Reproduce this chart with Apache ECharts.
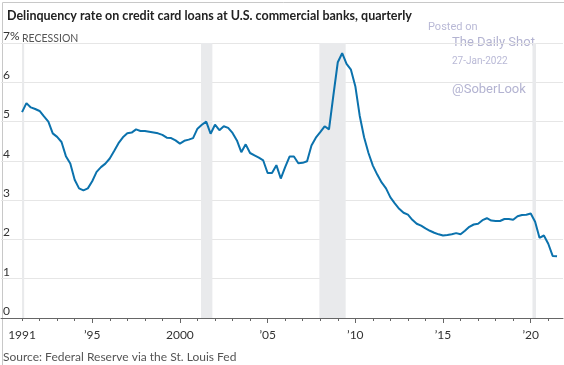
<!DOCTYPE html>
<html><head><meta charset="utf-8">
<script src="https://cdn.jsdelivr.net/npm/echarts@6/dist/echarts.min.js"></script>
<style>html,body{margin:0;padding:0;background:#fff}#c{width:564px;height:365px}</style>
</head><body><div id="c"></div>
<script>
const startYear = 1991;
// quarterly delinquency rate (%) from 1991 Q1 to 2021 Q3
const rates = [
  5.24, 5.47, 5.36, 5.32,
  5.27, 5.13, 5.00, 4.70,
  4.61, 4.48, 4.12, 3.93,
  3.52, 3.30, 3.25, 3.30,
  3.48, 3.72, 3.84, 3.93,
  4.06, 4.25, 4.45, 4.60,
  4.70, 4.72, 4.80, 4.76,
  4.76, 4.74, 4.72, 4.70,
  4.66, 4.59, 4.58, 4.52,
  4.44, 4.51, 4.54, 4.58,
  4.82, 4.92, 5.00, 4.69,
  4.92, 4.78, 4.88, 4.84,
  4.71, 4.52, 4.22, 4.42,
  4.20, 4.14, 4.08, 4.01,
  3.69, 3.69, 3.89, 3.55,
  3.84, 4.11, 4.11, 3.94,
  3.95, 3.99, 4.39, 4.59,
  4.73, 4.88, 4.80, 5.67,
  6.51, 6.74, 6.47, 6.32,
  5.90, 5.15, 4.60, 4.20,
  3.88, 3.65, 3.45, 3.30,
  3.07, 2.92, 2.78, 2.68,
  2.63, 2.50, 2.40, 2.35,
  2.28, 2.22, 2.17, 2.13,
  2.10, 2.11, 2.13, 2.16,
  2.13, 2.22, 2.32, 2.38,
  2.40, 2.49, 2.54, 2.48,
  2.47, 2.47, 2.52, 2.52,
  2.50, 2.59, 2.62, 2.63,
  2.66, 2.45, 2.04, 2.10,
  1.89, 1.58, 1.57
];
const recessions = [[1990.5, 1991.12], [2001.2, 2001.85], [2007.95, 2009.45], [2020.1, 2020.3]];
const yearTicks = [];
for (let y = 1991; y <= 2021; y++) yearTicks.push(y);
const labelYears = [1991, 1995, 2000, 2005, 2010, 2015, 2020];
const majorTicks = [1995, 2000, 2005, 2010, 2015, 2020];

const FONT = 'Lato';
const data = rates.map((v, i) => [startYear + i / 4, v]);
const xMin = 1989.8, xMax = 2021.84;

const chart = echarts.init(document.getElementById('c'), null, {renderer: 'canvas'});
chart.setOption({
  animation: false,
  title: {
    text: 'Delinquency rate on credit card loans at U.S. commercial banks, quarterly',
    left: 2, top: 4,
    textStyle: {fontFamily: FONT, fontSize: 12.5, fontWeight: 'bold', color: '#222'}
  },
  grid: {left: 1, right: 1, top: 43, bottom: 47, containLabel: false},
  xAxis: [{
    type: 'value', min: xMin, max: xMax,
    axisLine: {show: true, lineStyle: {color: '#666', width: 1}},
    axisTick: {show: true, customValues: yearTicks, length: 3, lineStyle: {color: '#666'}},
    axisLabel: {
      customValues: labelYears, margin: 11,
      fontFamily: FONT, fontSize: 12, color: '#333',
      formatter: v => (v === 1991 || v === 2000) ? String(v) : '\u2019' + String(v).slice(2)
    },
    splitLine: {show: false}
  }, {
    type: 'value', min: xMin, max: xMax, position: 'bottom',
    axisLine: {show: false},
    axisTick: {show: true, customValues: majorTicks, length: 5, lineStyle: {color: '#666'}},
    axisLabel: {show: false},
    splitLine: {show: false}
  }],
  yAxis: {
    type: 'value', min: 0, max: 7, interval: 1,
    axisLine: {show: false}, axisTick: {show: false},
    splitLine: {lineStyle: {color: '#e6e6e6', width: 1}},
    axisLabel: {
      inside: true, margin: 2, align: 'left', verticalAlign: 'bottom',
      fontFamily: FONT, fontSize: 12, color: '#333', padding: [0, 0, 1, 0],
      formatter: v => v === 7 ? '7%' : String(v)
    }
  },
  series: [{
    type: 'line', data: data, xAxisIndex: 0, showSymbol: false,
    lineStyle: {color: '#0b72ad', width: 2},
    markArea: {
      silent: true,
      itemStyle: {color: '#e9eaec'},
      data: recessions.map(r => [{xAxis: Math.max(r[0], startYear)}, {xAxis: r[1]}])
    },
    z: 3
  }],
  graphic: [
    {type: 'text', left: 22, top: 33, style: {text: 'RECESSION', font: '10.5px ' + FONT, fill: '#555'}},
    {type: 'text', left: 428, top: 22, style: {text: 'Posted on', font: '11px Roboto', fill: '#b9b9d6'}},
    {type: 'text', left: 452, top: 36, style: {text: 'The Daily Shot', font: '13px Roboto', fill: '#b3b3d1'}},
    {type: 'text', left: 452, top: 56, style: {text: '27-Jan-2022', font: '10px Roboto', fill: '#b9b9d6'}},
    {type: 'text', left: 452, top: 83, style: {text: '@SoberLook', font: '13px Roboto', fill: '#b3b3d1'}},
    {type: 'text', left: 3, top: 351, style: {text: 'Source: Federal Reserve via the St. Louis Fed', font: '12px ' + FONT, fill: '#555'}},
    {type: 'rect', left: 0, top: 0, shape: {x: 0.5, y: 0.5, width: 563, height: 364}, style: {fill: 'none', stroke: '#c8c8c8', lineWidth: 1}, silent: true}
  ]
});
</script></body></html>
